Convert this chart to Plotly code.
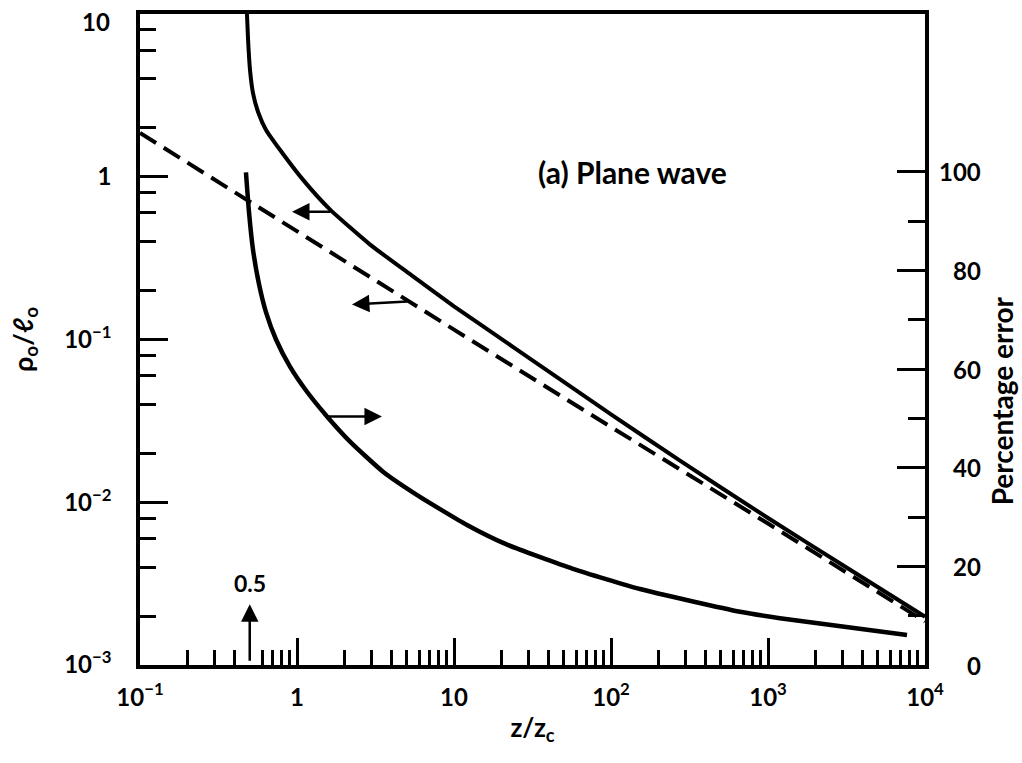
import plotly.graph_objects as go

# ---- data ----
upper_x = [0.48, 0.488, 0.502, 0.524, 0.565, 0.635, 0.779, 1.09, 1.62, 2.92, 5.4, 10, 25, 100, 275, 1000, 3000, 10000]
upper_y = [10, 6.92, 4.53, 3.28, 2.50, 1.94, 1.465, 0.96, 0.63, 0.383, 0.247, 0.160, 0.087, 0.0347, 0.0180, 0.0080, 0.0041, 0.00198]

dash_x = [0.1, 1, 10, 100, 1000, 10000]
dash_y = [1.86, 0.46, 0.115, 0.029, 0.0074, 0.00185]

err_x = [0.473, 0.494, 0.524, 0.573, 0.635, 0.735, 0.902, 1.158, 1.553, 2.176, 3.53, 6.07, 12.1,
         21.8, 57.3, 153, 663, 1191, 7680]
err_y = [99.9, 92.0, 84.3, 77.2, 71.5, 66.0, 60.5, 55.4, 50.4, 45.3, 39.2, 34.1, 28.4,
         24.4, 19.5, 15.4, 10.8, 9.5, 6.1]

x_tickvals = [0.1, 1, 10, 100, 1000, 10000]
x_ticktext = ["10<sup>−1</sup>", "1", "10", "10<sup>2</sup>", "10<sup>3</sup>", "10<sup>4</sup>"]
x_minor = [m * d for d in [0.1, 1, 10, 100, 1000] for m in range(2, 10) if not (d == 0.1 and m == 5)]

y_tickvals = [0.001, 0.01, 0.1, 1, 10]
y_ticktext = ["10<sup>−3</sup>", "10<sup>−2</sup>", "10<sup>−1</sup>", "1", "10"]
y_minor = [m * d for d in [0.001, 0.01, 0.1, 1] for m in (2, 4, 6, 8)]

y2_tickvals = [0, 20, 40, 60, 80, 100]
y2_minor = [10, 30, 50, 70, 90]

FONT = "Lato"
INK = "black"

fig = go.Figure()
fig.add_trace(go.Scatter(x=upper_x, y=upper_y, mode="lines",
                         line=dict(color=INK, width=4, shape="spline", smoothing=0.5),
                         showlegend=False, hoverinfo="skip"))
fig.add_trace(go.Scatter(x=dash_x, y=dash_y, mode="lines",
                         line=dict(color=INK, width=4, dash="19px,9px"),
                         showlegend=False, hoverinfo="skip"))
fig.add_trace(go.Scatter(x=err_x, y=err_y, mode="lines", yaxis="y2",
                         line=dict(color=INK, width=4.5, shape="spline", smoothing=0.5),
                         showlegend=False, hoverinfo="skip"))

tickfont = dict(family=FONT, size=24, color=INK, weight="bold")

# the top "10" label is drawn as an annotation so it is not cut at the page edge
y_ticktext_axis = [t if v != 10 else "" for v, t in zip(y_tickvals, y_ticktext)]

fig.update_layout(
    width=1022, height=763,
    margin=dict(l=140, r=97, t=14, b=98),
    paper_bgcolor="white", plot_bgcolor="white",
    xaxis=dict(type="log", range=[-1, 4], showgrid=False, zeroline=False, automargin=False,
               showline=True, linecolor=INK, linewidth=3.5, mirror=True,
               ticks="inside", ticklen=27, tickwidth=3, tickcolor=INK,
               tickvals=x_tickvals, ticktext=x_ticktext, tickfont=tickfont,
               ticklabelstandoff=8, ticklabeloverflow="allow",
               minor=dict(tickvals=x_minor, ticks="inside", ticklen=15, tickwidth=3, tickcolor=INK),
               title=dict(text="z/z<sub>c</sub>", font=dict(family=FONT, size=26, color=INK, weight="bold"),
                          standoff=10)),
    yaxis=dict(type="log", range=[-3, 1], showgrid=False, zeroline=False, automargin=False,
               showline=True, linecolor=INK, linewidth=3.5, mirror=True,
               ticks="inside", ticklen=28, tickwidth=3, tickcolor=INK,
               tickvals=y_tickvals, ticktext=y_ticktext_axis, tickfont=tickfont,
               ticklabelstandoff=20, ticklabeloverflow="allow",
               minor=dict(tickvals=y_minor, ticks="inside", ticklen=16, tickwidth=3, tickcolor=INK),
               title=dict(text="ρ<sub>o</sub>/ℓ<sub>o</sub>", font=dict(family=FONT, size=27, color=INK, weight="bold"),
                          standoff=24)),
    yaxis2=dict(overlaying="y", side="right", range=[0, 132], showgrid=False, zeroline=False,
                automargin=False, showline=True, linecolor=INK, linewidth=3.5,
                ticks="inside", ticklen=28, tickwidth=3, tickcolor=INK,
                tickvals=y2_tickvals, showticklabels=False,
                minor=dict(tickvals=y2_minor, ticks="inside", ticklen=17, tickwidth=3, tickcolor=INK)),
)

annotations = []
# top-left "10" tick label
annotations.append(dict(x=-0.0357, xref="paper", y=1, yref="y", yshift=-7, text=y_ticktext[-1],
                        showarrow=False, xanchor="right", yanchor="middle", font=tickfont))
# right-axis tick labels, right aligned
for v in y2_tickvals:
    annotations.append(dict(x=1.0739, xref="paper", y=v, yref="y2", text=str(v), showarrow=False,
                            xanchor="right", yanchor="middle", font=tickfont))
# right axis title
annotations.append(dict(x=1.0, xref="paper", xshift=77, xanchor="center", y=0.405, yref="paper",
                        yanchor="middle", text="Percentage error", textangle=-90, showarrow=False,
                        font=dict(family=FONT, size=28, color=INK, weight="bold")))
# panel label
annotations.append(dict(x=0.627, y=0.757, xref="paper", yref="paper", xanchor="center", yanchor="middle",
                        text="(a) Plane wave", showarrow=False,
                        font=dict(family=FONT, size=30, color=INK, weight="bold")))
# arrows
arrow_style = dict(showarrow=True, arrowhead=2, arrowsize=1.4, arrowwidth=2.5, arrowcolor=INK, text="")
annotations.append(dict(x=-0.032, y=-0.215, xref="x", yref="y", ax=40, ay=0, **arrow_style))
annotations.append(dict(x=0.350, y=-0.785, xref="x", yref="y", ax=57, ay=-3, **arrow_style))
annotations.append(dict(x=0.541, y=50.4, xref="x", yref="y2", ax=-55, ay=0, **arrow_style))
annotations.append(dict(x=-0.301, y=-2.626, xref="x", yref="y", ax=0, ay=58, **arrow_style))
annotations.append(dict(x=-0.301, y=-2.626, xref="x", yref="y", yshift=21, text="0.5", showarrow=False,
                        font=dict(family=FONT, size=23, color=INK, weight="bold")))
fig.update_layout(annotations=annotations)

fig.write_html("out.html")
